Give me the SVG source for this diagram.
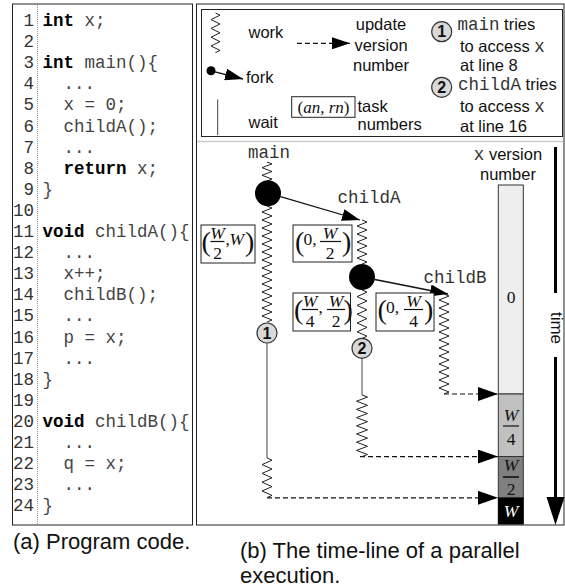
<svg xmlns="http://www.w3.org/2000/svg" width="565" height="587" viewBox="0 0 565 587">
<style>
.code{font-family:"Liberation Mono",monospace;font-size:17.5px;fill:#444}
.kw{font-weight:bold;fill:#000}
.ln{font-family:"Liberation Mono",monospace;font-size:17.5px;fill:#333;text-anchor:end}
.mono{font-family:"Liberation Mono",monospace;font-size:17.5px;fill:#333}
.sans{font-family:"Liberation Sans",Arial,sans-serif;font-size:16.5px;fill:#111}
.cap{font-family:"Liberation Sans",Arial,sans-serif;font-size:22px;fill:#111}
.fr{font-family:"Liberation Serif","Times New Roman",serif;font-size:17.5px;fill:#111}
.it{font-style:italic}
.mid{text-anchor:middle}
.par{font-family:"Liberation Serif","Times New Roman",serif;font-size:28px;fill:#111}
.box{fill:#fff;stroke:#222;stroke-width:1}
.zz{fill:none;stroke:#222;stroke-width:1}
.fb{stroke:#111;stroke-width:1.2}
.num{fill:#d9d9d9;stroke:#333;stroke-width:1.2}
.numt{font-family:"Liberation Sans",Arial,sans-serif;font-size:16px;font-weight:bold;fill:#111;text-anchor:middle}
.arr{stroke:#111;stroke-width:1.3;fill:none}
.dash{stroke:#111;stroke-width:1.2;stroke-dasharray:5,3;fill:none}
.wait{stroke:#444;stroke-width:1;fill:none}
</style>
<defs>
<marker id="ah" markerUnits="userSpaceOnUse" markerWidth="18" markerHeight="12" refX="18" refY="6" orient="auto"><path d="M0,0 L18,6 L0,12 z" fill="#000"/></marker>
<marker id="ahB" markerUnits="userSpaceOnUse" markerWidth="20" markerHeight="14" refX="20" refY="7" orient="auto"><path d="M0,0 L20,7 L0,14 z" fill="#000"/></marker>
</defs>
<rect width="565" height="587" fill="#fff"/>

<g id="code-panel">
<rect x="12.5" y="4" width="180" height="521" fill="none" stroke="#222" stroke-width="1"/>
<line x1="37.5" y1="5" x2="37.5" y2="524" stroke="#999" stroke-width="1" stroke-dasharray="1,1"/>
<text class="ln" x="34" y="26">1</text>
<text class="ln" x="34" y="47.1">2</text>
<text class="ln" x="34" y="68.2">3</text>
<text class="ln" x="34" y="89.3">4</text>
<text class="ln" x="34" y="110.4">5</text>
<text class="ln" x="34" y="131.5">6</text>
<text class="ln" x="34" y="152.6">7</text>
<text class="ln" x="34" y="173.7">8</text>
<text class="ln" x="34" y="194.8">9</text>
<text class="ln" x="34" y="215.9">10</text>
<text class="ln" x="34" y="237">11</text>
<text class="ln" x="34" y="258.1">12</text>
<text class="ln" x="34" y="279.2">13</text>
<text class="ln" x="34" y="300.3">14</text>
<text class="ln" x="34" y="321.4">15</text>
<text class="ln" x="34" y="342.5">16</text>
<text class="ln" x="34" y="363.6">17</text>
<text class="ln" x="34" y="384.7">18</text>
<text class="ln" x="34" y="405.8">19</text>
<text class="ln" x="34" y="426.9">20</text>
<text class="ln" x="34" y="448">21</text>
<text class="ln" x="34" y="469.1">22</text>
<text class="ln" x="34" y="490.2">23</text>
<text class="ln" x="34" y="511.3">24</text>
<text class="code" x="42.5" y="26" xml:space="preserve"><tspan class="kw">int</tspan> x;</text>
<text class="code" x="42.5" y="68.2" xml:space="preserve"><tspan class="kw">int</tspan> main(){</text>
<text class="code" x="63.5" y="89.3">...</text>
<text class="code" x="63.5" y="110.4">x = 0;</text>
<text class="code" x="63.5" y="131.5">childA();</text>
<text class="code" x="63.5" y="152.6">...</text>
<text class="code" x="63.5" y="173.7" xml:space="preserve"><tspan class="kw">return</tspan> x;</text>
<text class="code" x="42.5" y="194.8">}</text>
<text class="code" x="42.5" y="237" xml:space="preserve"><tspan class="kw">void</tspan> childA(){</text>
<text class="code" x="63.5" y="258.1">...</text>
<text class="code" x="63.5" y="279.2">x++;</text>
<text class="code" x="63.5" y="300.3">childB();</text>
<text class="code" x="63.5" y="321.4">...</text>
<text class="code" x="63.5" y="342.5">p = x;</text>
<text class="code" x="63.5" y="363.6">...</text>
<text class="code" x="42.5" y="384.7">}</text>
<text class="code" x="42.5" y="426.9" xml:space="preserve"><tspan class="kw">void</tspan> childB(){</text>
<text class="code" x="63.5" y="448">...</text>
<text class="code" x="63.5" y="469.1">q = x;</text>
<text class="code" x="63.5" y="490.2">...</text>
<text class="code" x="42.5" y="511.3">}</text>
</g>

<g id="timeline-frame">
<rect x="196.5" y="4" width="367.5" height="521" fill="none" stroke="#222" stroke-width="1"/>
<line x1="197" y1="141.5" x2="563" y2="141.5" stroke="#ccc" stroke-width="1.5"/>
</g>

<g id="legend">
<rect x="201.5" y="9.5" width="361" height="127" fill="none" stroke="#222" stroke-width="1"/>
<path class="zz" d="M215.5,13 l4.5,2.2 l-9,4.4 l9,4.4 l-9,4.4 l9,4.4 l-9,4.4 l9,4.4 l-9,4.4 l9,4.4 l-4.5,2.2"/>
<text class="sans" x="248.5" y="37.5">work</text>
<circle cx="211" cy="70.7" r="4.5" fill="#000"/>
<line class="arr" x1="215" y1="71.8" x2="243" y2="79" marker-end="url(#ah)"/>
<text class="sans" x="246" y="82.5">fork</text>
<line class="wait" x1="217.7" y1="99.5" x2="217.7" y2="135"/>
<text class="sans" x="248.5" y="127.5">wait</text>
<line class="dash" x1="297" y1="43.3" x2="350" y2="43.3" marker-end="url(#ah)"/>
<text class="sans mid" x="381" y="30">update</text>
<text class="sans mid" x="381" y="50.5">version</text>
<text class="sans mid" x="381" y="70.5">number</text>
<rect class="box" x="291.7" y="96.7" width="63.3" height="20.6"/>
<text class="fr mid" x="323.5" y="113" style="font-size:17px">(<tspan class="it">an</tspan>, <tspan class="it">rn</tspan>)</text>
<text class="sans" x="357.5" y="111.5">task</text>
<text class="sans" x="357.5" y="130">numbers</text>
<circle class="num" cx="441.7" cy="31.7" r="10"/>
<text class="numt" x="441.7" y="37.3">1</text>
<text class="sans" x="457.5" y="30"><tspan class="mono">main</tspan> tries</text>
<text class="sans" x="460" y="52">to access <tspan class="mono">x</tspan></text>
<text class="sans" x="460" y="71">at line 8</text>
<circle class="num" cx="441.7" cy="87.3" r="10"/>
<text class="numt" x="441.7" y="92.9">2</text>
<text class="sans" x="458" y="89.5"><tspan class="mono">childA</tspan> tries</text>
<text class="sans" x="460" y="111.5">to access <tspan class="mono">x</tspan></text>
<text class="sans" x="460" y="131.5">at line 16</text>
</g>

<g id="connectors">
<line class="arr" x1="280.5" y1="196.7" x2="360" y2="220" marker-end="url(#ah)"/>
<line class="arr" x1="374.8" y1="279.5" x2="448" y2="294" marker-end="url(#ah)"/>
<line class="wait" x1="267" y1="343" x2="267" y2="458"/>
<line class="wait" x1="362" y1="358" x2="362" y2="395"/>
<line class="dash" x1="444" y1="394" x2="498" y2="394" marker-end="url(#ahB)"/>
<line class="dash" x1="360" y1="456.6" x2="498" y2="456.6" marker-end="url(#ahB)"/>
<line class="dash" x1="267" y1="497.8" x2="498" y2="497.8" marker-end="url(#ahB)"/>
</g>

<g id="main">
<text class="mono mid" x="269" y="158">main</text>
<path class="zz" d="M267,162 l5,1.9 l-10,3.8 l10,3.8 l-10,3.8 l10,3.8 l-5,1.9"/>
<circle cx="268" cy="193.3" r="13" fill="#000"/>
<path class="zz" d="M267,206 l5,2 l-10,4 l10,4 l-10,4 l10,4 l-10,4 l10,4 l-10,4 l10,4 l-10,4 l10,4 l-10,4 l10,4 l-10,4 l10,4 l-10,4 l10,4 l-10,4 l10,4 l-10,4 l10,4 l-10,4 l10,4 l-10,4 l10,4 l-10,4 l10,4 l-10,4 l10,4 l-5,2"/>
<circle class="num" cx="267" cy="333" r="10"/>
<text class="numt" x="267" y="338.6">1</text>
<path class="zz" d="M267,458 l5,2.2 l-10,4.4 l10,4.4 l-10,4.4 l10,4.4 l-10,4.4 l10,4.4 l-10,4.4 l10,4.4 l-5,2.2"/>
</g>

<g id="childA">
<text class="mono mid" x="369" y="203">childA</text>
<path class="zz" d="M362,220 l5,2 l-10,4 l10,4 l-10,4 l10,4 l-10,4 l10,4 l-10,4 l10,4 l-10,4 l10,4 l-5,2"/>
<circle cx="362" cy="277" r="13" fill="#000"/>
<path class="zz" d="M362,290 l5,2.2 l-10,4.4 l10,4.4 l-10,4.4 l10,4.4 l-10,4.4 l10,4.4 l-10,4.4 l10,4.4 l-10,4.4 l10,4.4 l-5,2.2"/>
<circle class="num" cx="362" cy="348.3" r="10"/>
<text class="numt" x="362" y="353.9">2</text>
<path class="zz" d="M362,395 l5.5,2.1 l-11,4.1 l11,4.1 l-11,4.1 l11,4.1 l-11,4.1 l11,4.1 l-11,4.1 l11,4.1 l-11,4.1 l11,4.1 l-11,4.1 l11,4.1 l-11,4.1 l11,4.1 l-5.5,2.1"/>
</g>

<g id="childB">
<text class="mono mid" x="455" y="283">childB</text>
<path class="zz" d="M444,294 l5,2 l-10,4 l10,4 l-10,4 l10,4 l-10,4 l10,4 l-10,4 l10,4 l-10,4 l10,4 l-10,4 l10,4 l-10,4 l10,4 l-10,4 l10,4 l-10,4 l10,4 l-10,4 l10,4 l-10,4 l10,4 l-10,4 l10,4 l-5,2"/>
</g>

<g id="box-main">
<rect class="box" x="201" y="225" width="54" height="38"/>
<text class="par" x="201.5" y="251">(</text>
<text class="fr it mid" x="217.5" y="239">W</text>
<line class="fb" x1="210.5" y1="241.5" x2="224.5" y2="241.5"/>
<text class="fr mid" x="217.5" y="258.5">2</text>
<text class="fr" x="225.5" y="245">,</text>
<text class="fr it" x="229.5" y="245">W</text>
<text class="par" x="245" y="251">)</text>
</g>

<g id="box-childA">
<rect class="box" x="293" y="225" width="59" height="37"/>
<text class="par" x="295" y="251">(</text>
<text class="fr" x="303.5" y="245">0,</text>
<text class="fr it mid" x="330" y="239">W</text>
<line class="fb" x1="320" y1="241.5" x2="341" y2="241.5"/>
<text class="fr mid" x="330" y="258.5">2</text>
<text class="par" x="342" y="251">)</text>
</g>

<g id="box-childA2">
<rect class="box" x="293" y="293" width="57.5" height="38"/>
<text class="par" x="294" y="319">(</text>
<text class="fr it mid" x="310" y="307">W</text>
<line class="fb" x1="302" y1="309.5" x2="318" y2="309.5"/>
<text class="fr mid" x="310" y="326.5">4</text>
<text class="fr" x="318.5" y="313">,</text>
<text class="fr it mid" x="336" y="307">W</text>
<line class="fb" x1="327" y1="309.5" x2="345" y2="309.5"/>
<text class="fr mid" x="336" y="326.5">2</text>
<text class="par" x="343.5" y="319">)</text>
</g>

<g id="box-childB">
<rect class="box" x="376" y="293" width="58" height="38"/>
<text class="par" x="377.5" y="319">(</text>
<text class="fr" x="386" y="313">0,</text>
<text class="fr it mid" x="413.5" y="307">W</text>
<line class="fb" x1="404" y1="309.5" x2="423" y2="309.5"/>
<text class="fr mid" x="413.5" y="326.5">4</text>
<text class="par" x="424" y="319">)</text>
</g>

<g id="version-bar">
<text class="sans mid" x="508" y="160"><tspan class="mono">x</tspan> version</text>
<text class="sans mid" x="508" y="179.5">number</text>
<rect x="498.3" y="185" width="25" height="209" fill="#eeeeee" stroke="#333" stroke-width="1"/>
<rect x="498.3" y="394" width="25" height="62.5" fill="#c0c0c0" stroke="#333" stroke-width="1"/>
<rect x="498.3" y="456.5" width="25" height="41.5" fill="#808080" stroke="#333" stroke-width="1"/>
<rect x="498.3" y="498" width="25" height="26" fill="#000" stroke="#000" stroke-width="1"/>
<text class="fr mid" x="511" y="303">0</text>
<text class="fr it mid" x="511" y="421">W</text>
<line class="fb" x1="503" y1="426" x2="519" y2="426"/>
<text class="fr mid" x="511" y="445">4</text>
<text class="fr it mid" x="511" y="470.5">W</text>
<line x1="503" y1="477" x2="519" y2="477" stroke="#000" stroke-width="1.4"/>
<text class="fr mid" x="511" y="495">2</text>
<text class="fr it mid" x="511" y="517" style="fill:#fff">W</text>
</g>

<g id="time-axis">
<line x1="555.5" y1="147" x2="555.5" y2="293" stroke="#000" stroke-width="3"/>
<line x1="555.5" y1="357" x2="555.5" y2="500" stroke="#000" stroke-width="3"/>
<polygon points="546.5,497 564.5,497 555.5,525" fill="#000"/>
<text class="sans mid" x="556" y="328" dominant-baseline="central" transform="rotate(90 556 328)" style="font-size:17px">time</text>
</g>

<g id="captions">
<text class="cap" x="13" y="549">(a) Program code.</text>
<text class="cap" x="240" y="558">(b) The time-line of a parallel</text>
<text class="cap" x="240" y="583">execution.</text>
</g>
</svg>
